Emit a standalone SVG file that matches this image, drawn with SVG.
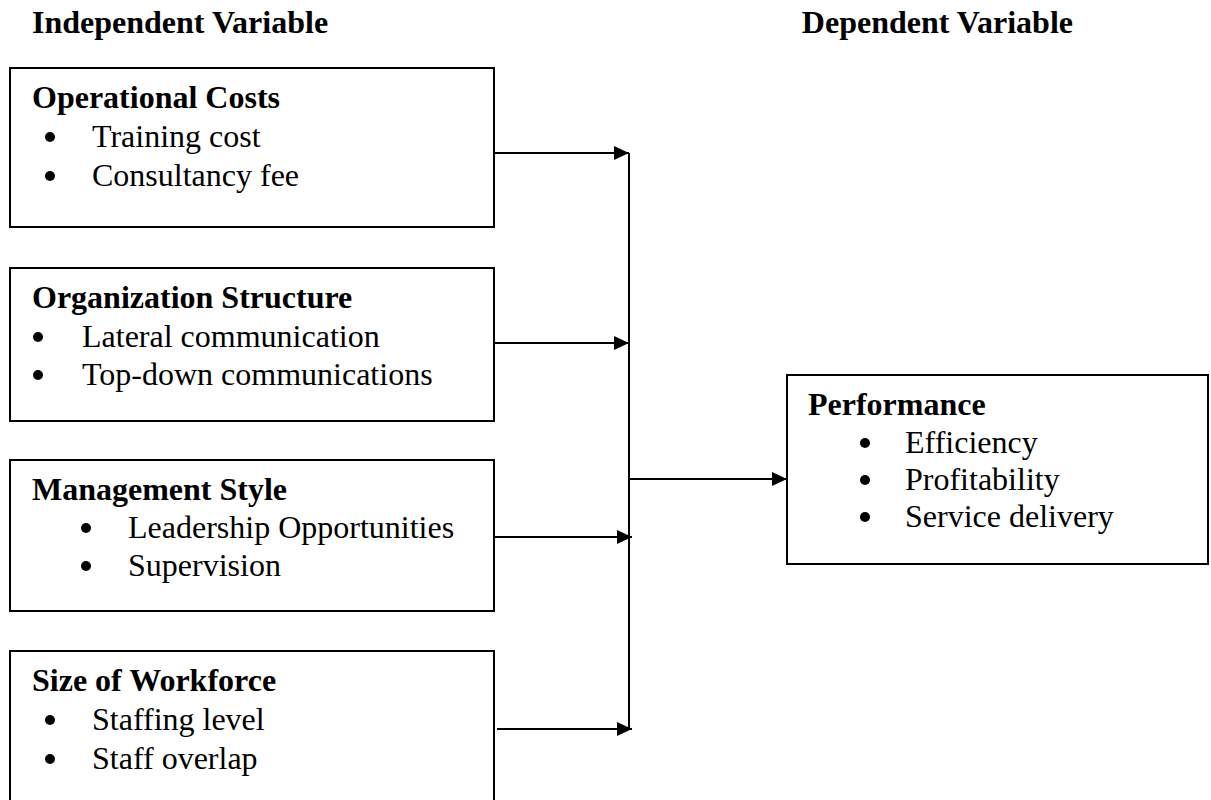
<svg xmlns="http://www.w3.org/2000/svg" width="1211" height="800" viewBox="0 0 1211 800">
<defs>
<style>
.box{fill:#fff;stroke:#000;stroke-width:2}
.t{font-family:"Liberation Serif","Times New Roman",serif;font-size:32px;fill:#000}
.b{font-weight:bold}
.ln{stroke:#000;stroke-width:2;fill:none}
.dot{fill:#000}
</style>
<marker id="ah" viewBox="0 0 15 14" refX="15" refY="7" markerWidth="15" markerHeight="14" markerUnits="userSpaceOnUse" orient="auto">
<path d="M0,0 L15,7 L0,14 Z" fill="#000"/>
</marker>
</defs>
<rect width="1211" height="800" fill="#fff"/>
<text class="t b" x="32" y="33">Independent Variable</text>
<text class="t b" x="1073" y="33" text-anchor="end">Dependent Variable</text>

<g id="connectors">
<line class="ln" x1="629" y1="153" x2="629" y2="729"/>
<line class="ln" x1="494" y1="153" x2="629" y2="153" marker-end="url(#ah)"/>
<line class="ln" x1="494" y1="343" x2="629" y2="343" marker-end="url(#ah)"/>
<line class="ln" x1="494" y1="537" x2="632" y2="537" marker-end="url(#ah)"/>
<line class="ln" x1="497" y1="729" x2="632" y2="729" marker-end="url(#ah)"/>
<line class="ln" x1="629" y1="479" x2="787" y2="479" marker-end="url(#ah)"/>
</g>

<g id="operational-costs">
<rect class="box" x="10" y="68" width="484" height="159"/>
<text class="t b" x="32" y="108">Operational Costs</text>
<circle class="dot" cx="50" cy="137" r="5"/>
<text class="t" x="92" y="147">Training cost</text>
<circle class="dot" cx="50" cy="176" r="5"/>
<text class="t" x="92" y="186">Consultancy fee</text>
</g>

<g id="organization-structure">
<rect class="box" x="10" y="268" width="484" height="153"/>
<text class="t b" x="32" y="308">Organization Structure</text>
<circle class="dot" cx="38" cy="337" r="5"/>
<text class="t" x="82" y="347">Lateral communication</text>
<circle class="dot" cx="38" cy="375" r="5"/>
<text class="t" x="82" y="385">Top-down communications</text>
</g>

<g id="management-style">
<rect class="box" x="10" y="460" width="484" height="151"/>
<text class="t b" x="32" y="500">Management Style</text>
<circle class="dot" cx="86" cy="528" r="5"/>
<text class="t" x="128" y="538">Leadership Opportunities</text>
<circle class="dot" cx="86" cy="566" r="5"/>
<text class="t" x="128" y="576">Supervision</text>
</g>

<g id="size-of-workforce">
<rect class="box" x="10" y="651" width="484" height="170"/>
<text class="t b" x="32" y="691">Size of Workforce</text>
<circle class="dot" cx="50" cy="720" r="5"/>
<text class="t" x="92" y="730">Staffing level</text>
<circle class="dot" cx="50" cy="759" r="5"/>
<text class="t" x="92" y="769">Staff overlap</text>
</g>

<g id="performance">
<rect class="box" x="787" y="375" width="421" height="189"/>
<text class="t b" x="808" y="415">Performance</text>
<circle class="dot" cx="865" cy="443" r="5"/>
<text class="t" x="905" y="453">Efficiency</text>
<circle class="dot" cx="865" cy="480" r="5"/>
<text class="t" x="905" y="490">Profitability</text>
<circle class="dot" cx="865" cy="517" r="5"/>
<text class="t" x="905" y="527">Service delivery</text>
</g>
</svg>
